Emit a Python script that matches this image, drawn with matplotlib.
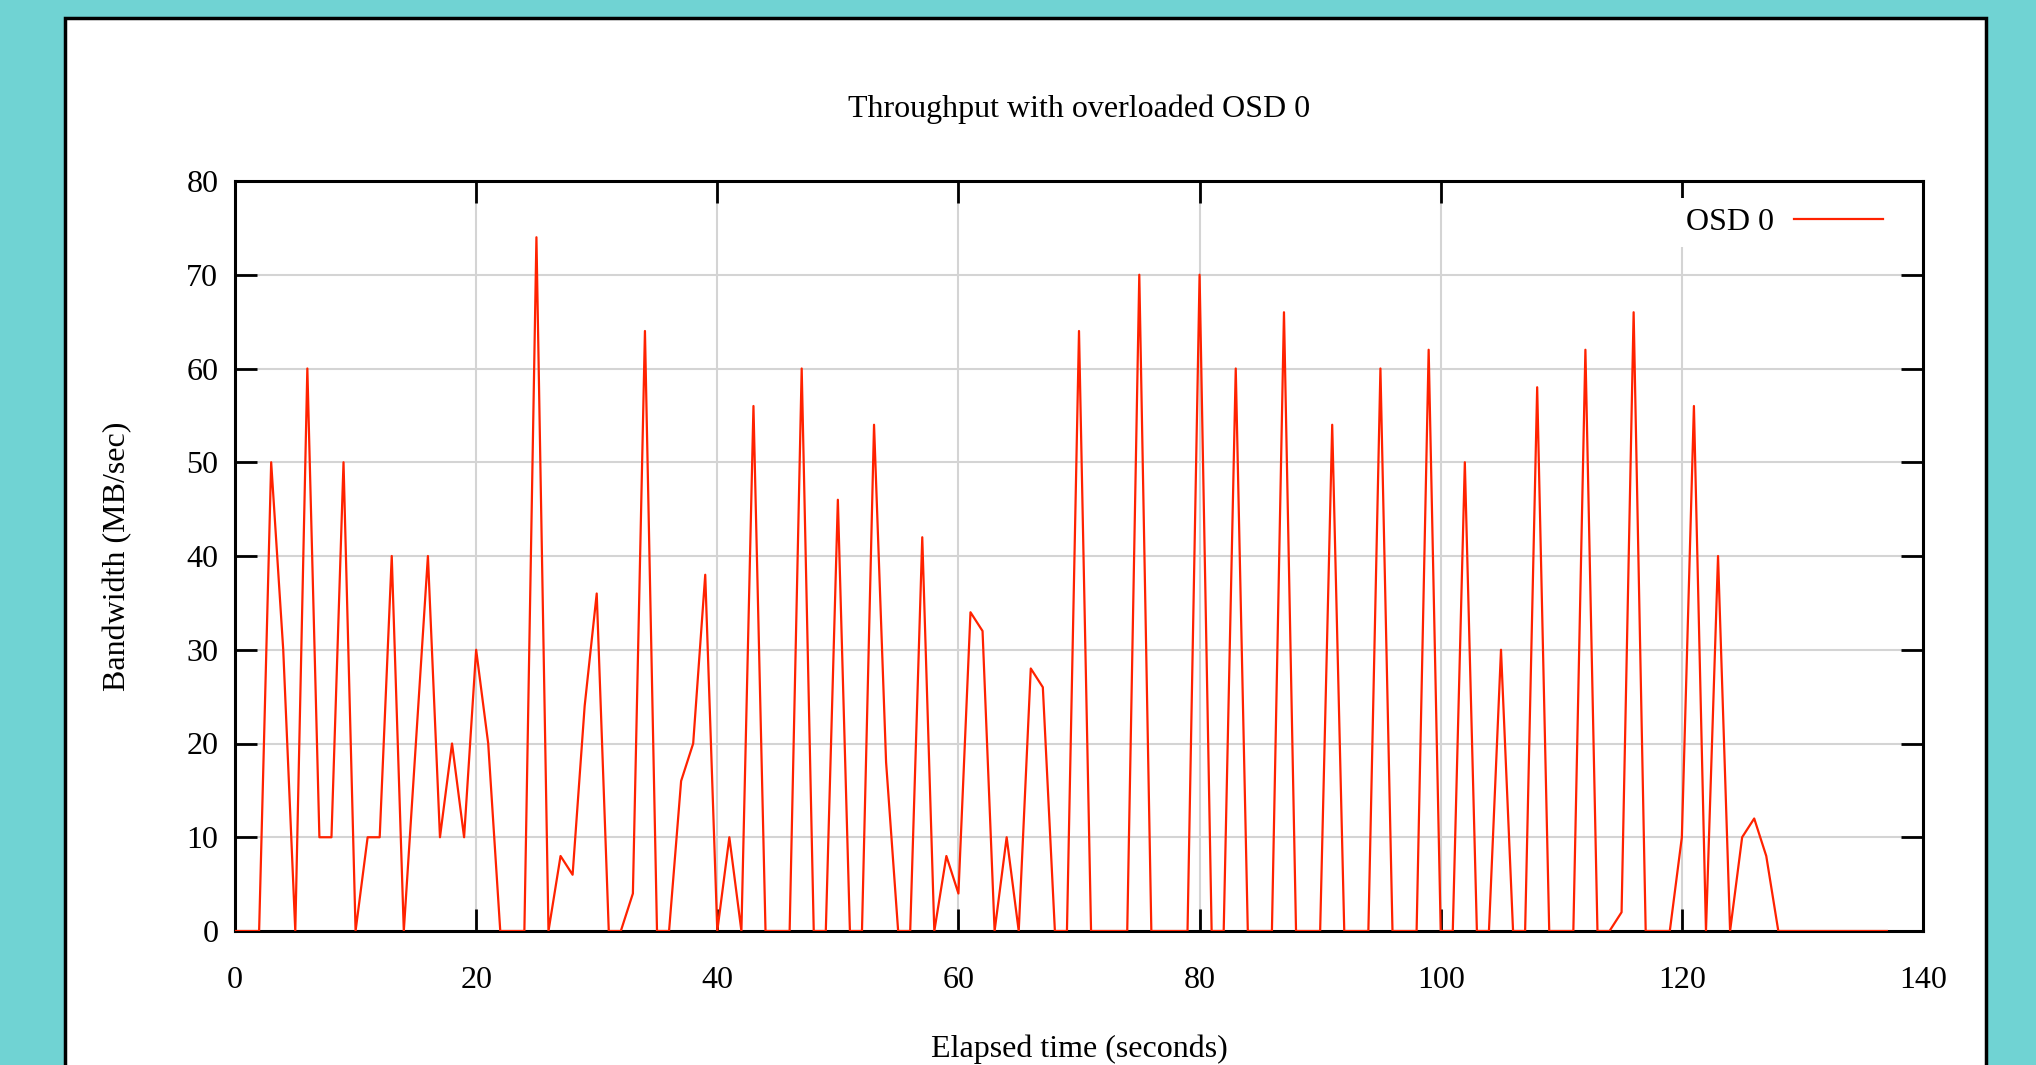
import matplotlib
matplotlib.use("Agg")
import matplotlib.pyplot as plt
from matplotlib.patches import Rectangle

# ---- data ----
elapsed_s = list(range(0, 138))
bandwidth_mb = [
    0, 0, 0, 50, 30, 0, 60, 10, 10, 50,
    0, 10, 10, 40, 0, 20, 40, 10, 20, 10,
    30, 20, 0, 0, 0, 74, 0, 8, 6, 24,
    36, 0, 0, 4, 64, 0, 0, 16, 20, 38,
    0, 10, 0, 56, 0, 0, 0, 60, 0, 0,
    46, 0, 0, 54, 18, 0, 0, 42, 0, 8,
    4, 34, 32, 0, 10, 0, 28, 26, 0, 0,
    64, 0, 0, 0, 0, 70, 0, 0, 0, 0,
    70, 0, 0, 60, 0, 0, 0, 66, 0, 0,
    0, 54, 0, 0, 0, 60, 0, 0, 0, 62,
    0, 0, 50, 0, 0, 30, 0, 0, 58, 0,
    0, 0, 62, 0, 0, 2, 66, 0, 0, 0,
    10, 56, 0, 40, 0, 10, 12, 8, 0, 0,
    0, 0, 0, 0, 0, 0, 0, 0,
]
x_ticks = [0, 20, 40, 60, 80, 100, 120, 140]
y_ticks = [0, 10, 20, 30, 40, 50, 60, 70, 80]
series_label = "OSD 0"
title = "Throughput with overloaded OSD 0"
x_label = "Elapsed time (seconds)"
y_label = "Bandwidth (MB/sec)"

plt.rcParams['font.family'] = ['Liberation Serif', 'DejaVu Serif']
FS = 23

W, H = 2036, 1065
fig = plt.figure(figsize=(W / 100, H / 100), dpi=100)
fig.patch.set_facecolor('#70d3d3')

# white panel with black border (bottom edge outside figure)
panel = Rectangle((65 / W, -0.05), (1986 - 65) / W, 1.05 - 18 / H,
                  transform=fig.transFigure, facecolor='white',
                  edgecolor='black', linewidth=2.5, zorder=-10)
fig.patches.append(panel)

left, right, top, bottom = 235, 1923, 181, 931
ax = fig.add_axes([left / W, 1 - bottom / H, (right - left) / W, (bottom - top) / H])
ax.set_zorder(1)
ax.set_facecolor('white')

ax.plot(elapsed_s, bandwidth_mb, color='#ff2200', linewidth=1.6,
        label=series_label, zorder=3)

ax.set_xlim(0, 140)
ax.set_ylim(0, 80)
ax.set_xticks(x_ticks)
ax.set_yticks(y_ticks)
ax.grid(True, color='#d4d4d4', linewidth=1.5, zorder=0)
ax.set_axisbelow(True)

for s in ax.spines.values():
    s.set_linewidth(2.2)
    s.set_color('black')

ax.tick_params(direction='in', top=True, right=True, length=16, width=2,
               labelsize=FS, colors='black')
ax.tick_params(axis='y', pad=12)
ax.tick_params(axis='x', pad=25)

ax.set_title(title, fontsize=FS, pad=46)
ax.set_xlabel(x_label, fontsize=FS, labelpad=29)
ax.set_ylabel(y_label, fontsize=FS, labelpad=39)

leg = ax.legend(loc='upper right', bbox_to_anchor=(0.982, 0.977),
                markerfirst=False, fontsize=FS, handlelength=2.8,
                handletextpad=0.6, frameon=True, fancybox=False,
                borderpad=0.3, borderaxespad=0.0)
leg.get_frame().set_edgecolor('none')
leg.get_frame().set_facecolor('white')
leg.get_frame().set_alpha(1.0)

fig.savefig("out.png", dpi=100, facecolor=fig.get_facecolor())
